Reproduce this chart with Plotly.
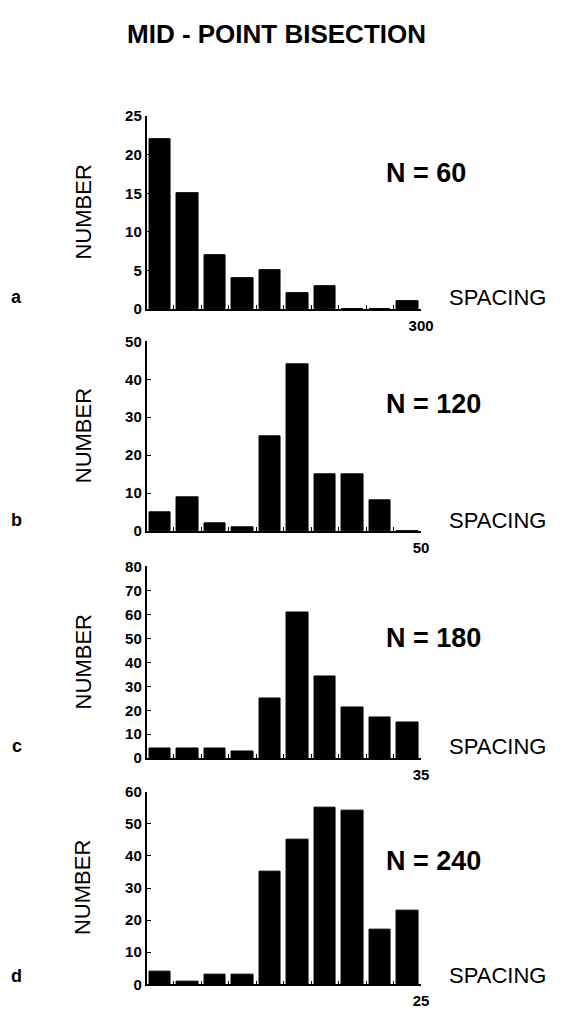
import plotly.graph_objects as go

# ---- data ----
panel_letters = ["a", "b", "c", "d"]
n_labels = ["N = 60", "N = 120", "N = 180", "N = 240"]
x_max = [300, 50, 35, 25]
y_max = [25, 50, 80, 60]
y_dtick = [5, 10, 10, 10]
counts_a = [22, 15, 7, 4, 5, 2, 3, 0, 0, 1]
counts_b = [5, 9, 2, 1, 25, 44, 15, 15, 8, 0]
counts_c = [4, 4, 4, 3, 25, 61, 34, 21, 17, 15]
counts_d = [4, 1, 3, 3, 35, 45, 55, 54, 17, 23]
all_counts = [counts_a, counts_b, counts_c, counts_d]

W, H = 564, 1013
# pixel geometry (top of y range, zero line) per panel
y_px = [(109, 305), (338, 531), (567, 762), (796, 992)]
x_px = (150, 431)
label_y = [293, 520, 750, 983]
n_y = [167, 402, 640, 867]

FONT = "Liberation Sans"
fig = go.Figure()

for i, counts in enumerate(all_counts):
    nb = len(counts)
    bw = x_max[i] / nb
    centers = [bw * (k + 0.5) for k in range(nb)]
    edges = [bw * k for k in range(nb + 1)]
    xa = "x" if i == 0 else f"x{i+1}"
    ya = "y" if i == 0 else f"y{i+1}"
    fig.add_trace(go.Bar(
        x=centers, y=counts, width=bw * 0.78,
        marker=dict(color="black", line=dict(color="black", width=1)),
        xaxis=xa, yaxis=ya, showlegend=False, hoverinfo="x+y",
    ))
    top, zero = y_px[i]
    xkey = "xaxis" if i == 0 else f"xaxis{i+1}"
    ykey = "yaxis" if i == 0 else f"yaxis{i+1}"
    fig.layout[xkey] = dict(
        domain=[x_px[0] / W, x_px[1] / W], range=[0, x_max[i]],
        anchor=ya, showgrid=False, zeroline=False, showline=True,
        linecolor="black", linewidth=1.5,
        ticks="inside", ticklen=4, tickcolor="black", tickwidth=1.2,
        tickvals=edges, ticktext=[""] * nb + [str(x_max[i])],
        ticklabelstandoff=2,
        tickfont=dict(family=FONT, size=15, color="black", weight="bold"),
        fixedrange=True,
    )
    fig.layout[ykey] = dict(
        domain=[1 - zero / H, 1 - top / H], range=[0, y_max[i]],
        anchor=xa, showgrid=False, zeroline=False, showline=True,
        linecolor="black", linewidth=1.5,
        ticks="inside", ticklen=5, tickcolor="black", tickwidth=1.2,
        dtick=y_dtick[i], tick0=0,
        tickfont=dict(family=FONT, size=15, color="black", weight="bold"),
        fixedrange=True,
    )

ann = []
ann.append(dict(text="<b>MID - POINT BISECTION</b>", x=283 / W, y=1 - 25 / H,
                xref="paper", yref="paper", showarrow=False,
                xanchor="center", yanchor="middle",
                font=dict(family=FONT, size=26, color="black")))
for i in range(4):
    top, zero = y_px[i]
    ann.append(dict(text="NUMBER", x=85 / W, y=1 - (top + zero) / 2 / H, textangle=-90,
                    xref="paper", yref="paper", showarrow=False,
                    xanchor="center", yanchor="middle",
                    font=dict(family=FONT, size=22, color="black")))
    ann.append(dict(text="SPACING", x=509 / W, y=1 - label_y[i] / H,
                    xref="paper", yref="paper", showarrow=False,
                    xanchor="center", yanchor="middle",
                    font=dict(family=FONT, size=22, color="black")))
    ann.append(dict(text=f"<b>{panel_letters[i]}</b>", x=17 / W, y=1 - label_y[i] / H,
                    xref="paper", yref="paper", showarrow=False,
                    xanchor="center", yanchor="middle",
                    font=dict(family=FONT, size=18, color="black")))
    ann.append(dict(text=f"<b>{n_labels[i]}</b>", x=393 / W, y=1 - n_y[i] / H,
                    xref="paper", yref="paper", showarrow=False,
                    xanchor="left", yanchor="middle",
                    font=dict(family=FONT, size=27, color="black")))

fig.update_layout(
    width=W, height=H, margin=dict(l=0, r=0, t=0, b=0),
    paper_bgcolor="white", plot_bgcolor="white",
    annotations=ann, bargap=0,
)
fig.write_html("out.html", config={"displayModeBar": False},
               post_script="document.body.style.margin='0';")
